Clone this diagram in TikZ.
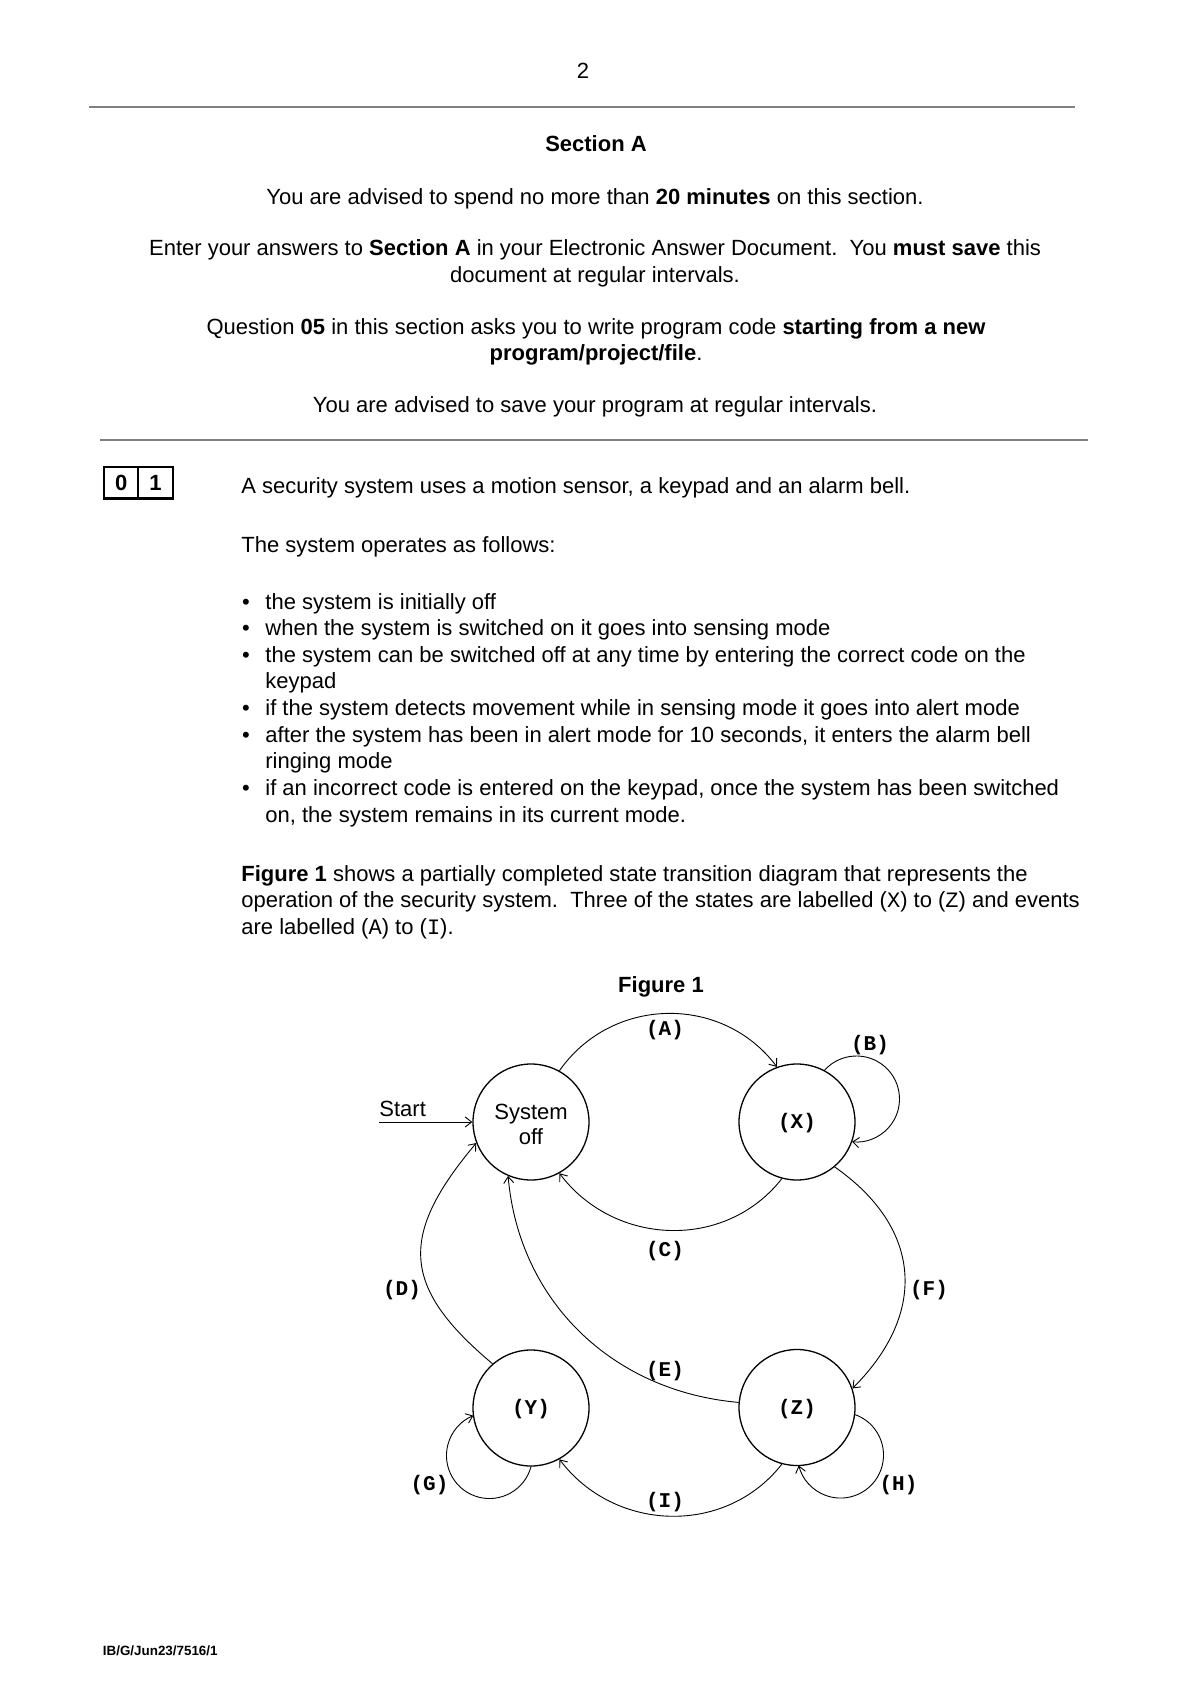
\documentclass[tikz,border=0pt]{standalone}
\usepackage{fontspec}
\setmainfont{Liberation Sans}
\newfontfamily\cour{Liberation Mono}
\usetikzlibrary{arrows.meta}
\begin{document}
\begin{tikzpicture}[x=0.5pt,y=0.5pt,
  txt/.style={inner sep=0pt, font=\fontsize{11}{12.75}\selectfont},
  ctr/.style={txt, anchor=base},
  lft/.style={txt, anchor=base west},
  rule/.style={draw=black!50, line width=1.1pt},
  qframe/.style={line width=1.1pt},
  qdig/.style={inner sep=0pt, font=\fontsize{11}{12}\selectfont\bfseries},
  state/.style={draw, circle, line width=0.65pt, minimum size=58pt, inner sep=0pt},
  stxt/.style={inner sep=0pt, align=center, font=\fontsize{11}{12.4}\selectfont},
  lab/.style={inner sep=0pt, font=\fontsize{10.5}{12}\selectfont\cour\bfseries},
  arr/.style={-{Straight Barb[length=3.2pt,width=5pt]}, line width=0.45pt},
]
\useasboundingbox (0,0) rectangle (1191,-1684);
\fill[white] (0,0) rectangle (1191,-1684);

% header
\node[ctr] (pg) at (583,-79) {2};
\coordinate (r1a) at (89,-107);
\coordinate (r1b) at (1075,-107);
\draw[rule] (r1a) -- (r1b);
\node[ctr] (h1) at (596,-152) {\textbf{Section A}};
\node[ctr] (h2) at (595,-205) {You are advised to spend no more than \textbf{20 minutes} on this section.};
\node[ctr] (h3) at (595,-256) {Enter your answers to \textbf{Section A} in your Electronic Answer Document.\ \ You \textbf{must save} this};
\node[ctr] (h4) at (595,-283) {document at regular intervals.};
\node[ctr] (h5) at (596,-335) {Question \textbf{05} in this section asks you to write program code \textbf{starting from a new}};
\node[ctr] (h6) at (596,-361) {\textbf{program/project/file}.};
\node[ctr] (h7) at (595,-413) {You are advised to save your program at regular intervals.};
\coordinate (r2a) at (100,-440);
\coordinate (r2b) at (1088,-440);
\draw[rule] (r2a) -- (r2b);

% question number
\coordinate (qa) at (104,-467);
\coordinate (qb) at (172.7,-498.5);
\coordinate (qm1) at (138.3,-467);
\coordinate (qm2) at (138.3,-498.5);
\draw[qframe] (qa) rectangle (qb);
\draw[qframe] (qm1) -- (qm2);
\node[qdig] (q0) at (121.2,-482.7) {0};
\node[qdig] (q1) at (155.5,-482.7) {1};

\node[lft] (p1) at (241,-493) {A security system uses a motion sensor, a keypad and an alarm bell.};
\node[lft] (p2) at (241,-552.5) {The system operates as follows:};

\foreach \yy/\tt [count=\i] in {609/{the system is initially off},
  635.6/{when the system is switched on it goes into sensing mode},
  662.2/{the system can be switched off at any time by entering the correct code on the},
  715.4/{if the system detects movement while in sensing mode it goes into alert mode},
  742/{after the system has been in alert mode for 10 seconds, it enters the alarm bell},
  795.2/{if an incorrect code is entered on the keypad, once the system has been switched}}{
  \node[ctr] (bu\i) at (246,-\yy) {•};
  \node[lft] (bt\i) at (265,-\yy) {\tt};
}
\node[lft] (bc3) at (265,-688.8) {keypad};
\node[lft] (bc5) at (265,-768.6) {ringing mode};
\node[lft] (bc6) at (265,-822.5) {on, the system remains in its current mode.};

\node[lft] (f1) at (241,-881.7) {\textbf{Figure 1} shows a partially completed state transition diagram that represents the};
\node[lft] (f2) at (241,-907.2) {operation of the security system.\ \ Three of the states are labelled ({\cour X}) to ({\cour Z}) and events};
\node[lft] (f3) at (241,-934) {are labelled ({\cour A}) to ({\cour I}).};

\node[ctr] (fig) at (661,-992) {\textbf{Figure 1}};

% states
\node[state] (S) at (531,-1122) {};
\node[state] (X) at (797,-1122) {};
\node[state] (Y) at (531,-1408) {};
\node[state] (Z) at (797,-1407.5) {};
\node[stxt] (St) at (531,-1124.8) {System\\off};
\node[lab] (Xl) at (797,-1123.5) {(X)};
\node[lab] (Yl) at (531,-1409.5) {(Y)};
\node[lab] (Zl) at (797,-1409) {(Z)};

% start
\node[txt, anchor=base west] (st) at (379,-1116) {Start};
\coordinate (s0) at (379,-1122);
\draw[arr] (s0) -- (S.west);

% transitions
\draw[arr] (S.61) to[out=55, in=127, looseness=1.07] (X.110);
\draw[arr] (X.62) arc[start angle=138, end angle=-96, radius=21.5pt];
\draw[arr] (X.255) to[out=-128, in=-53, looseness=1.05] (S.-61);
\draw[arr] (Y.131) to[out=140, in=-130, looseness=1.39] (S.201);
\draw[arr] (Z.175) to[out=175, in=-85, looseness=1] (S.-113);
\draw[arr] (X.-50) to[out=-35, in=45, looseness=1.23] (Z.19);
\draw[arr] (Y.-90) arc[start angle=-15, end angle=-248, radius=21.5pt];
\draw[arr] (Z.-7) arc[start angle=70, end angle=-166, radius=21.5pt];
\draw[arr] (Z.255) to[out=-128, in=-53, looseness=1.05] (Y.-61);

% labels
\node[lab] (lA) at (665,-1030) {(A)};
\node[lab] (lB) at (870,-1045) {(B)};
\node[lab] (lC) at (665,-1251) {(C)};
\node[lab] (lD) at (402,-1290) {(D)};
\node[lab] (lE) at (665,-1371.5) {(E)};
\node[lab] (lF) at (929,-1290) {(F)};
\node[lab] (lG) at (429.5,-1485) {(G)};
\node[lab] (lH) at (898.5,-1485) {(H)};
\node[lab] (lI) at (665,-1502) {(I)};

% footer
\node[inner sep=0pt, anchor=west, font=\fontsize{6.7}{8}\selectfont\bfseries] (foot) at (102.5,-1650.7) {IB/G/Jun23/7516/1};
\end{tikzpicture}
\end{document}
